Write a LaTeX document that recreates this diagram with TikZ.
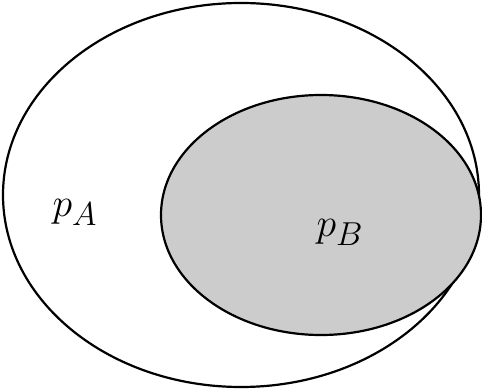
\documentclass[tikz,border=0pt]{standalone}
\usetikzlibrary{positioning}
\definecolor{setgray}{RGB}{204,204,204}
\newcommand{\biglabel}[1]{\scalebox{1.6}{\Huge $#1$}}
\begin{document}
\begin{tikzpicture}[
        x=1pt, y=-1pt,
        setline/.style={draw=black, line width=2.2pt},
        setlabel/.style={inner sep=0pt},
    ]
    \useasboundingbox (0,0) rectangle (482,390);
    \draw[setline] (241,195) ellipse [x radius=238, y radius=192];
    \draw[setline, fill=setgray] (321,215) ellipse [x radius=160, y radius=120];
    \node[setlabel] (pA) at (75,212) {\biglabel{p_A}};
    \node[setlabel] (pB) at (340,232) {\biglabel{p_B}};
\end{tikzpicture}
\end{document}
